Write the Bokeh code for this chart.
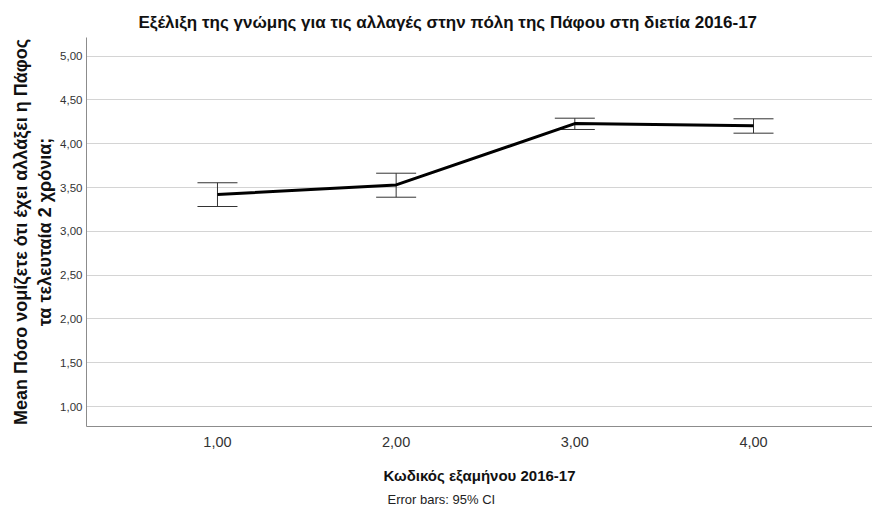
from bokeh.plotting import figure
from bokeh.models import ColumnDataSource, Whisker, TeeHead, Title, FixedTicker, Range1d, CustomJSTickFormatter
from bokeh.embed import file_html
from bokeh.resources import INLINE

# Data
semesters = [1.0, 2.0, 3.0, 4.0]
means = [3.42, 3.53, 4.23, 4.205]
ci_lower = [3.284, 3.39, 4.163, 4.121]
ci_upper = [3.555, 3.664, 4.292, 4.285]
y_ticks = [1.0, 1.5, 2.0, 2.5, 3.0, 3.5, 4.0, 4.5, 5.0]
x_ticks = [1.0, 2.0, 3.0, 4.0]

title_text = "Εξέλιξη της γνώμης για τις αλλαγές στην πόλη της Πάφου στη διετία 2016-17"
ylabel = "Mean Πόσο νομίζετε ότι έχει αλλάξει η Πάφος\nτα τελευταία 2 χρόνια;"
xlabel = "Κωδικός εξαμήνου 2016-17"
footnote = "Error bars: 95% CI"

FONT = "Liberation Sans"

p = figure(width=872, height=515, output_backend="svg", toolbar_location=None,
           x_range=Range1d(0.267, 4.666), y_range=Range1d(0.773, 5.213),
           min_border_left=86, min_border_right=0, min_border_top=37, min_border_bottom=89)
p.outline_line_color = None
p.background_fill_color = "white"
p.border_fill_color = "white"

p.title.text = title_text
p.title.align = "left"
p.title.offset = 52
p.title.standoff = 12
p.title.text_font = FONT
p.title.text_font_size = "17px"
p.title.text_font_style = "bold"
p.title.text_color = "#111111"

# axes
fmt = CustomJSTickFormatter(code="return tick.toFixed(2).replace('.', ',');")
for ax in (p.xaxis[0], p.yaxis[0]):
    ax.axis_line_color = "#8c8c8c"
    ax.axis_line_width = 1
    ax.major_tick_line_color = None
    ax.minor_tick_line_color = None
    ax.major_tick_out = 0
    ax.major_tick_in = 0
    ax.major_label_text_font = FONT
    ax.axis_label_text_font = FONT
    ax.axis_label_text_font_style = "bold"
    ax.axis_label_text_color = "#111111"
    ax.formatter = fmt
p.xaxis.ticker = FixedTicker(ticks=x_ticks)
p.yaxis.ticker = FixedTicker(ticks=y_ticks)
p.xaxis.major_label_text_font_size = "14.5px"
p.xaxis.major_label_text_color = "#333333"
p.xaxis.major_label_standoff = 10
p.yaxis.major_label_text_font_size = "11.5px"
p.yaxis.major_label_text_color = "#333333"
p.yaxis.major_label_standoff = 4
p.xaxis.axis_label = xlabel
p.xaxis.axis_label_text_font_size = "15px"
p.xaxis.axis_label_standoff = 17
p.yaxis.axis_label = ylabel
p.yaxis.axis_label_text_font_size = "18px"
p.yaxis.axis_label_standoff = 2

p.xgrid.grid_line_color = None
p.ygrid.grid_line_color = "#d4d4d4"
p.ygrid.grid_line_width = 1
p.ygrid.ticker = FixedTicker(ticks=y_ticks)

src = ColumnDataSource(dict(x=semesters, m=means, lo=ci_lower, hi=ci_upper))
w = Whisker(base="x", upper="hi", lower="lo", source=src, dimension="height",
            line_color="#333333", line_width=1,
            upper_head=TeeHead(size=40, line_color="#333333", line_width=1),
            lower_head=TeeHead(size=40, line_color="#333333", line_width=1))
p.add_layout(w)
p.line("x", "m", source=src, line_color="black", line_width=3)

p.add_layout(Title(text=footnote, align="left", offset=301, text_font=FONT,
                   text_font_size="13px", text_font_style="normal",
                   text_color="#222222", standoff=11, vertical_align="top"), "below")

open("out.html", "w").write(file_html(p, INLINE))
